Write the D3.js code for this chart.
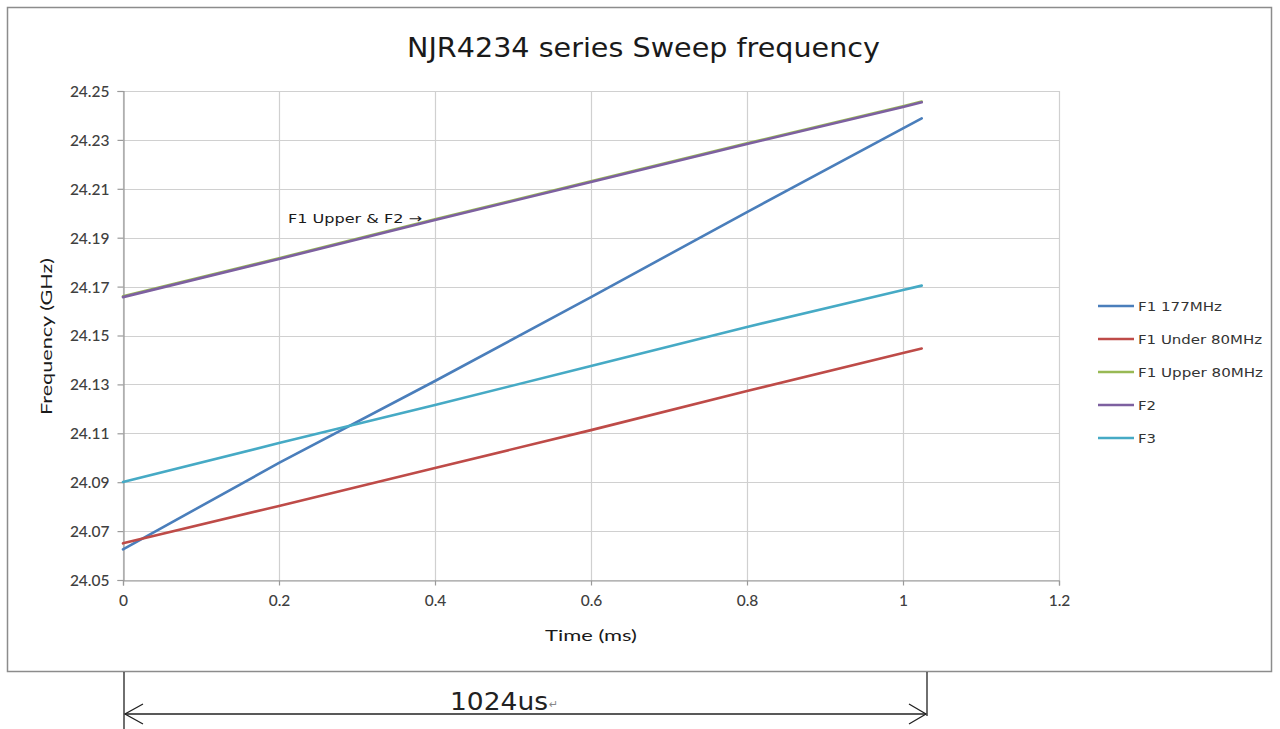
<!DOCTYPE html>
<html><head><meta charset="utf-8">
<script src="https://cdn.jsdelivr.net/npm/d3@7"></script>
<style>html,body{margin:0;padding:0;background:#fff;}svg{display:block;}</style>
</head><body>
<svg id="c" width="1280" height="729"></svg>
<script>
const timeMs = [0, 0.2, 0.4, 0.6, 0.8, 1.0, 1.024];
const f1_177 = [24.0625, 24.0979, 24.1314, 24.1657, 24.2005, 24.2347, 24.2388];
const f1Under = [24.0650, 24.0803, 24.0958, 24.1113, 24.1273, 24.1428, 24.1447];
const f1Upper = [24.1660, 24.1816, 24.1975, 24.2131, 24.2286, 24.2438, 24.2457];
const f2 = [24.1657, 24.1813, 24.1972, 24.2128, 24.2283, 24.2435, 24.2454];
const f3 = [24.0901, 24.1060, 24.1216, 24.1375, 24.1535, 24.1686, 24.1704];
const seriesNames = ["F1 177MHz", "F1 Under 80MHz", "F1 Upper 80MHz", "F2", "F3"];
const seriesColors = ["#4a7ebb", "#be4b48", "#98b954", "#7d60a0", "#46aac5"];
const xTicks = [0, 0.2, 0.4, 0.6, 0.8, 1, 1.2];
const yTicks = [24.05, 24.07, 24.09, 24.11, 24.13, 24.15, 24.17, 24.19, 24.21, 24.23, 24.25];

const series = [f1_177, f1Under, f1Upper, f2, f3];

const svg = d3.select("#c");
const tickFont = "Lato, 'Open Sans', sans-serif";
const wideFont = "'DejaVu Sans', Verdana, sans-serif";

// outer chart frame
svg.append("rect").attr("x", 7.5).attr("y", 7.5).attr("width", 1264).attr("height", 664)
  .attr("fill", "#fff").attr("stroke", "#8c8c8c").attr("stroke-width", 1.5);

const x = d3.scaleLinear().domain([0, 1.2]).range([123, 1059]);
const y = d3.scaleLinear().domain([24.05, 24.25]).range([580, 91]);

// gridlines
const g = svg.append("g");
g.selectAll(".hg").data(yTicks).join("line")
  .attr("x1", x(0)).attr("x2", x(1.2))
  .attr("y1", d => Math.round(y(d)) + 0.5).attr("y2", d => Math.round(y(d)) + 0.5)
  .attr("stroke", "#d0d0d0").attr("stroke-width", 1.2);
g.selectAll(".vg").data(xTicks).join("line")
  .attr("y1", y(24.25)).attr("y2", y(24.05))
  .attr("x1", d => Math.round(x(d)) + 0.5).attr("x2", d => Math.round(x(d)) + 0.5)
  .attr("stroke", "#d0d0d0").attr("stroke-width", 1.2);

// axes
const yAxis = d3.axisLeft(y).tickValues(yTicks).tickSize(6).tickFormat(d3.format(".2f"));
const xAxis = d3.axisBottom(x).tickValues(xTicks).tickSize(5).tickFormat(d => d === 0 ? "0" : d3.format("")(d));
const ya = svg.append("g").attr("transform", `translate(${x(0) + 0.5},0)`).call(yAxis);
const xa = svg.append("g").attr("transform", `translate(0,${y(24.05) + 0.5})`).call(xAxis);
[ya, xa].forEach(a => {
  a.select(".domain").attr("stroke", "#9a9a9a").attr("stroke-width", 1.2);
  a.selectAll(".tick line").attr("stroke", "#9a9a9a").attr("stroke-width", 1.2);
  a.selectAll(".tick text").attr("fill", "#404040").style("font-family", tickFont)
    .style("font-size", "15.5px").style("font-weight", "500");
});
ya.selectAll(".tick text").attr("x", -14).attr("dy", "0.35em");
xa.selectAll(".tick text").attr("y", 14);

// lines
const line = d3.line().x((d, i) => x(timeMs[i])).y(d => y(d));
series.forEach((s, k) => {
  svg.append("path").datum(s).attr("d", line)
    .attr("fill", "none").attr("stroke", seriesColors[k]).attr("stroke-width", 2.6)
    .attr("stroke-linecap", "round");
});

// title
svg.append("text").attr("x", 407).attr("y", 57)
  .attr("textLength", 473).attr("lengthAdjust", "spacingAndGlyphs")
  .style("font-family", wideFont).style("font-size", "27px").attr("fill", "#1a1a1a")
  .text("NJR4234 series Sweep frequency");

// axis titles
svg.append("text").attr("transform", "translate(52,415) rotate(-90)")
  .attr("textLength", 157).attr("lengthAdjust", "spacingAndGlyphs")
  .style("font-family", tickFont).style("font-size", "16px").attr("fill", "#1a1a1a")
  .text("Frequency  (GHz)");
svg.append("text").attr("x", 545).attr("y", 641)
  .attr("textLength", 92).attr("lengthAdjust", "spacingAndGlyphs")
  .style("font-family", tickFont).style("font-size", "16px").attr("fill", "#1a1a1a")
  .text("Time (ms)");

// annotation
svg.append("text").attr("x", 288).attr("y", 223)
  .attr("textLength", 134).attr("lengthAdjust", "spacingAndGlyphs")
  .style("font-family", wideFont).style("font-size", "13px").attr("fill", "#1a1a1a")
  .text("F1 Upper & F2 →");

// legend
const legendLens = [84, 124, 125, 18, 18];
const lg = svg.append("g");
seriesNames.forEach((n, i) => {
  const yy = 306 + i * 33;
  lg.append("line").attr("x1", 1098).attr("x2", 1134).attr("y1", yy).attr("y2", yy)
    .attr("stroke", seriesColors[i]).attr("stroke-width", 2.6);
  lg.append("text").attr("x", 1138).attr("y", yy + 5)
    .attr("textLength", legendLens[i]).attr("lengthAdjust", "spacingAndGlyphs")
    .style("font-family", wideFont).style("font-size", "13px").attr("fill", "#333")
    .text(n);
});

// bottom dimension annotation
const dim = svg.append("g").attr("stroke", "#222").attr("stroke-width", 1.3).attr("fill", "none");
dim.append("line").attr("x1", 124).attr("x2", 124).attr("y1", 672).attr("y2", 729);
dim.append("line").attr("x1", 927).attr("x2", 927).attr("y1", 672).attr("y2", 716);
dim.append("line").attr("x1", 125).attr("x2", 926).attr("y1", 714).attr("y2", 714);
dim.append("path").attr("d", "M143,704 L125,714 L143,724");
dim.append("path").attr("d", "M909,704 L926,714 L909,724");
svg.append("text").attr("x", 450).attr("y", 710)
  .attr("textLength", 98).attr("lengthAdjust", "spacingAndGlyphs")
  .style("font-family", wideFont).style("font-size", "24px").attr("fill", "#222")
  .text("1024us");
svg.append("text").attr("x", 549).attr("y", 708)
  .style("font-family", wideFont).style("font-size", "11px").attr("fill", "#888")
  .text("↵");
</script>
</body></html>
